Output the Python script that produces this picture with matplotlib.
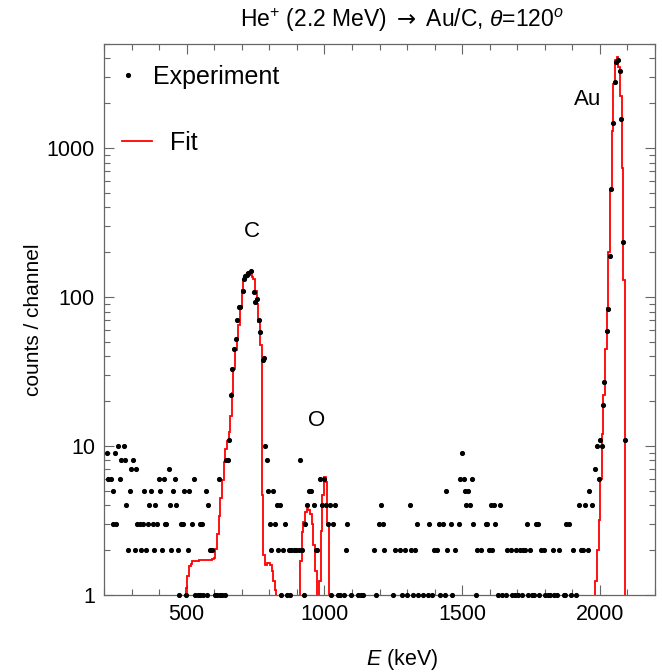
import matplotlib.pyplot as plt
import numpy as np
from matplotlib.ticker import MultipleLocator, LogLocator, NullFormatter

plt.rcParams['font.family'] = ['Liberation Sans', 'DejaVu Sans']
plt.rcParams['mathtext.fontset'] = 'custom'
plt.rcParams['mathtext.rm'] = 'Liberation Sans'
plt.rcParams['mathtext.it'] = 'Liberation Sans:italic'
plt.rcParams['mathtext.sf'] = 'DejaVu Sans'

# measured spectrum (channel energy in keV, counts)
exp_energy = [
    210, 216, 224, 231, 234, 240, 244, 252, 258, 262,
    271, 277, 280, 286, 293, 299, 305, 311, 317, 320,
    329, 335, 340, 346, 352, 358, 364, 370, 377, 380,
    386, 392, 398, 405, 411, 417, 420, 426, 435, 439,
    445, 451, 457, 462, 469, 474, 480, 486, 492, 496,
    505, 510, 520, 526, 532, 542, 548, 550, 557, 559,
    569, 575, 578, 585, 593, 603, 611, 618, 621, 629,
    639, 642, 651, 655, 660, 666, 672, 678, 683, 689,
    695, 703, 707, 712, 718, 724, 733, 743, 749, 755,
    761, 768, 776, 780, 785, 791, 797, 804, 807, 813,
    819, 828, 832, 838, 844, 850, 856, 864, 870, 874,
    880, 889, 897, 907, 913, 919, 925, 931, 937, 943,
    950, 962, 968, 974, 984, 990, 998, 1004, 1013, 1019,
    1025, 1032, 1038, 1050, 1055, 1071, 1077, 1083, 1096, 1123,
    1132, 1141, 1181, 1187, 1199, 1205, 1214, 1217, 1248, 1257,
    1276, 1282, 1294, 1300, 1311, 1315, 1321, 1329, 1335, 1339,
    1357, 1375, 1381, 1390, 1397, 1409, 1415, 1421, 1430, 1436,
    1440, 1446, 1458, 1463, 1475, 1487, 1491, 1499, 1505, 1509,
    1515, 1521, 1530, 1535, 1540, 1552, 1555, 1570, 1585, 1592,
    1597, 1603, 1609, 1615, 1621, 1631, 1639, 1643, 1659, 1662,
    1677, 1680, 1692, 1695, 1704, 1710, 1716, 1722, 1729, 1735,
    1740, 1746, 1752, 1759, 1768, 1774, 1780, 1785, 1797, 1801,
    1810, 1819, 1828, 1832, 1844, 1852, 1868, 1874, 1878, 1889,
    1895, 1902, 1914, 1925, 1931, 1940, 1946, 1956, 1961, 1971,
    1984, 1990, 1996, 2002, 2006, 2010, 2016, 2024, 2031, 2036,
    2042, 2047, 2053, 2059, 2065, 2072, 2078, 2084, 2090,
]
exp_counts = [
    9, 6, 6, 5, 3, 9, 3, 10, 6, 8,
    10, 8, 4, 2, 5, 7, 8, 2, 7, 3,
    3, 2, 3, 5, 2, 3, 4, 5, 3, 2,
    4, 3, 6, 5, 2, 6, 3, 3, 7, 4,
    2, 5, 6, 4, 2, 1, 3, 3, 5, 1,
    2, 5, 3, 6, 1, 1, 3, 1, 3, 1,
    5, 1, 4, 2, 2, 1, 1, 6, 1, 1,
    1, 8, 8, 11, 22, 33, 45, 52, 70, 86,
    86, 110, 133, 139, 141, 144, 150, 109, 92, 97,
    70, 58, 38, 39, 10, 8, 5, 3, 2, 5,
    3, 4, 2, 4, 1, 2, 3, 1, 2, 1,
    2, 2, 2, 2, 8, 2, 1, 3, 4, 5,
    5, 4, 2, 2, 6, 4, 6, 4, 3, 4,
    1, 3, 4, 1, 1, 1, 2, 3, 1, 1,
    1, 1, 2, 1, 3, 4, 3, 2, 1, 2,
    2, 1, 2, 1, 4, 2, 1, 2, 3, 1,
    1, 1, 3, 1, 2, 2, 3, 1, 3, 1,
    5, 2, 3, 1, 2, 3, 6, 9, 6, 5,
    4, 5, 4, 6, 3, 1, 2, 2, 3, 3,
    2, 4, 2, 4, 3, 1, 4, 1, 1, 2,
    2, 1, 1, 2, 1, 2, 1, 2, 2, 3,
    1, 2, 1, 1, 3, 3, 1, 2, 2, 1,
    1, 1, 2, 1, 1, 2, 1, 1, 3, 3,
    1, 2, 1, 4, 2, 2, 4, 2, 5, 4,
    7, 10, 6, 11, 10, 19, 27, 59, 83, 190,
    534, 1485, 2762, 3800, 3900, 3306, 1563, 236, 11,
]

# fitted spectrum, 6 keV channels, one segment per peak (first channel edge, values)
channel_width = 6.0
fit_c_start = 496
fit_c = [1.12, 1.35, 1.57, 1.62, 1.68, 1.70, 1.70, 1.70, 1.71, 1.71,
         1.71, 1.71, 1.71, 1.72, 1.72, 1.73, 1.74, 1.78, 2.04, 2.57,
         3.4, 4.5, 5.9, 7.8, 9.6, 10.8, 12.5, 16, 22.6, 33,
         44, 53, 65, 86, 112, 131, 139, 144, 144, 141,
         137, 132, 110, 90, 68, 48, 4.7, 1.85, 1.6, 1.65,
         1.65, 1.6, 1.45, 1.25, 1.08]
fit_o1_start = 912
fit_o1 = [1.7, 2.64, 3.08, 3.6, 3.8, 3.7, 3.5, 3.0, 2.15, 1.45]
fit_o2_start = 980
fit_o2 = [1.25, 2.7, 4.7, 6.2, 5.7, 3.0]
fit_au_start = 1983
fit_au = [1.25, 2.0, 3.2, 6, 12, 22, 45, 85, 200, 520,
          1300, 2700, 3900, 4100, 3500, 2250, 740, 131]

fig = plt.figure(figsize=(6.62, 6.72), dpi=100)
ax = fig.add_axes([104/662, 77/672, 551/662, 551/672])

h_exp, = ax.plot(exp_energy, exp_counts, 'o', ms=2.7, color='black',
                 linestyle='none', clip_on=False, zorder=3)

h_fit = None
for start, vals in [(fit_c_start, fit_c), (fit_o1_start, fit_o1),
                    (fit_o2_start, fit_o2), (fit_au_start, fit_au)]:
    edges = start + channel_width * np.arange(len(vals) + 1)
    st = ax.stairs(vals, edges, baseline=0.1, color='#ff0000', lw=1.3, zorder=2)
    if h_fit is None:
        h_fit = st

ax.set_yscale('log')
ax.set_xlim(200, 2200)
ax.set_ylim(1, 5000)
ax.set_xticks([500, 1000, 1500, 2000])
ax.xaxis.set_minor_locator(MultipleLocator(100))
ax.set_yticks([1, 10, 100, 1000])
ax.set_yticklabels(['1', '10', '100', '1000'])
ax.yaxis.set_minor_locator(LogLocator(base=10, subs=np.arange(2, 10)))
ax.yaxis.set_minor_formatter(NullFormatter())

ax.tick_params(which='both', direction='in', top=True, right=True,
               color='#666666', labelsize=15.5, pad=6.5)
ax.tick_params(which='major', length=7, width=0.8)
ax.tick_params(which='minor', length=4, width=0.8)
for s in ax.spines.values():
    s.set_color('#666666')
    s.set_linewidth(0.9)

ax.set_xlabel(r'$E$ (keV)', fontsize=15.5)
ax.xaxis.set_label_coords((402 - 104) / 551, -0.094)
ax.set_ylabel('counts / channel', fontsize=15, labelpad=3)

fig.text(402/662, 1 - 20/672,
         r'He$^{+}$ (2.2 MeV) $\mathsf{\rightarrow}$ Au/C, $\theta$=120$^{\mathit{o}}$',
         ha='center', va='center', fontsize=16.5)

ax.text(735, 275, 'C', ha='center', va='center', fontsize=16)
ax.text(973, 14.9, 'O', ha='center', va='center', fontsize=16)
ax.text(1954, 2134, 'Au', ha='center', va='center', fontsize=16)

leg1 = ax.legend([h_exp], ['Experiment'], loc='center left',
                 bbox_to_anchor=(0.0345, 0.940), frameon=False, fontsize=18,
                 handlelength=0.4, handletextpad=0.8, borderpad=0,
                 borderaxespad=0, numpoints=1)
ax.add_artist(leg1)
ax.legend([h_fit], ['Fit'], loc='center left',
          bbox_to_anchor=(0.0327, 0.820), frameon=False, fontsize=18,
          handlelength=1.2, handletextpad=0.7, borderpad=0, borderaxespad=0)

plt.savefig('out.png', dpi=100)
